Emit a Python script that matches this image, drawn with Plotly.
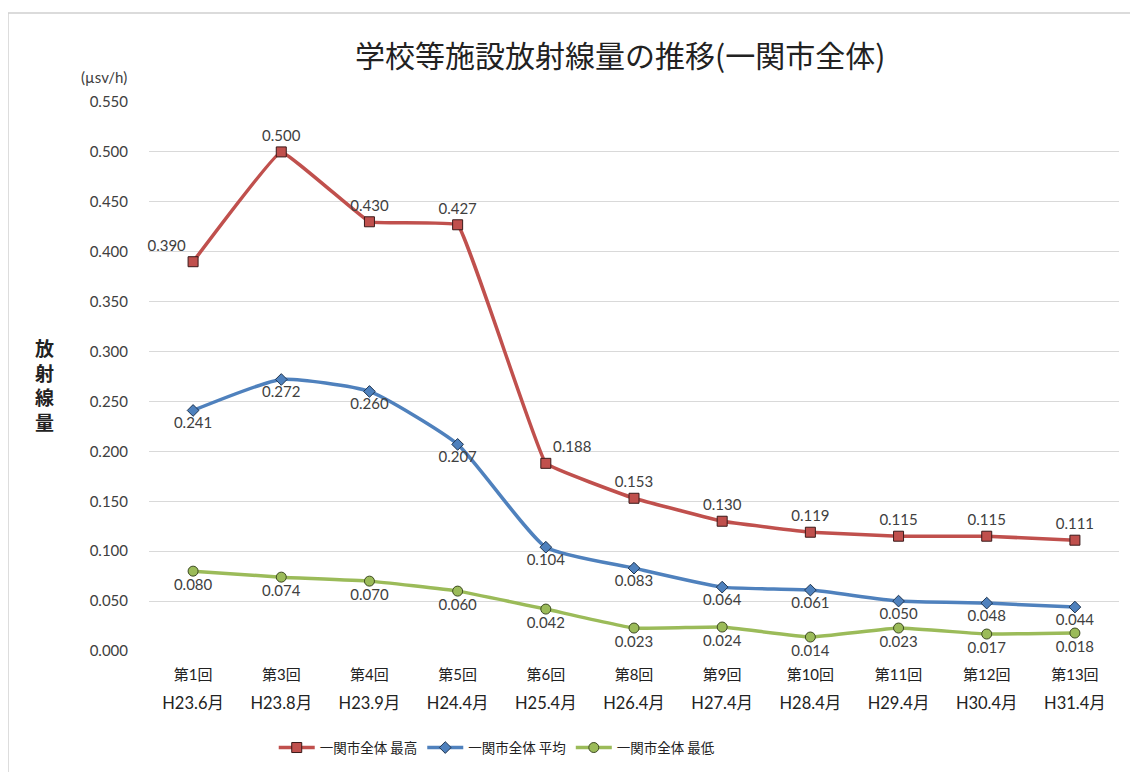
import plotly.graph_objects as go

rounds = ["第1回", "第3回", "第4回", "第5回", "第6回", "第8回", "第9回", "第10回", "第11回", "第12回", "第13回"]
dates = ["H23.6月", "H23.8月", "H23.9月", "H24.4月", "H25.4月", "H26.4月", "H27.4月", "H28.4月", "H29.4月", "H30.4月", "H31.4月"]
max_vals = [0.390, 0.500, 0.430, 0.427, 0.188, 0.153, 0.130, 0.119, 0.115, 0.115, 0.111]
avg_vals = [0.241, 0.272, 0.260, 0.207, 0.104, 0.083, 0.064, 0.061, 0.050, 0.048, 0.044]
min_vals = [0.080, 0.074, 0.070, 0.060, 0.042, 0.023, 0.024, 0.014, 0.023, 0.017, 0.018]
y_ticks = [0.0, 0.05, 0.1, 0.15, 0.2, 0.25, 0.3, 0.35, 0.4, 0.45, 0.5, 0.55]

cats = [f"{r}|{d}" for r, d in zip(rounds, dates)]
ticktext = [f"<span style='font-size:15px'>{r}</span><br><br><span style='font-size:16.5px'>{d}</span>"
            for r, d in zip(rounds, dates)]

FONT = "Lato, 'Noto Sans CJK JP', sans-serif"
JP = "'Noto Sans CJK JP', sans-serif"
RED, BLUE, GREEN = "#C0504D", "#4F81BD", "#9BBB59"

max_pos = ["top left", "top center", "top center", "top center", "top right"] + ["top center"] * 6
avg_pos = ["bottom center"] * 11
min_pos = ["bottom center"] * 11

fig = go.Figure()
fig.add_trace(go.Scatter(
    x=cats, y=max_vals, name="一関市全体 最高", mode="lines+markers+text", cliponaxis=False,
    line=dict(color=RED, width=3.5, shape="spline", smoothing=0.2),
    marker=dict(symbol="square", size=10, color=RED, line=dict(color="#3a1a1a", width=1)),
    text=[f"{v:.3f}" for v in max_vals], textposition=max_pos,
    textfont=dict(family=FONT, size=15, color="#404040"),
))
fig.add_trace(go.Scatter(
    x=cats, y=avg_vals, name="一関市全体 平均", mode="lines+markers+text", cliponaxis=False,
    line=dict(color=BLUE, width=3.5, shape="spline", smoothing=0.5),
    marker=dict(symbol="diamond", size=9, color=BLUE, line=dict(color="#1f3550", width=1)),
    text=[f"{v:.3f}" for v in avg_vals], textposition=avg_pos,
    textfont=dict(family=FONT, size=15, color="#404040"),
))
fig.add_trace(go.Scatter(
    x=cats, y=min_vals, name="一関市全体 最低", mode="lines+markers+text", cliponaxis=False,
    line=dict(color=GREEN, width=3.5, shape="spline", smoothing=0.3),
    marker=dict(symbol="circle", size=10, color=GREEN, line=dict(color="#3d4a22", width=1)),
    text=[f"{v:.3f}" for v in min_vals], textposition=min_pos,
    textfont=dict(family=FONT, size=15, color="#404040"),
))

fig.update_layout(
    width=1138, height=772,
    margin=dict(l=141, r=27, t=94, b=129, autoexpand=False),
    paper_bgcolor="white", plot_bgcolor="white",
    font=dict(family=FONT, color="#333333"),
    title=dict(text="学校等施設放射線量の推移(一関市全体)", x=0.538, xanchor="center",
               y=0.937, yanchor="middle",
               font=dict(family=JP, size=30, color="#222222")),
    showlegend=True,
    legend=dict(orientation="h", x=0.359, xanchor="center", y=-0.148, yanchor="top",
                font=dict(family=JP, size=13.5, color="#222222"),
                itemwidth=36, tracegroupgap=0),
    hovermode=False,
)
fig.update_xaxes(
    tickmode="array", tickvals=cats, ticktext=ticktext, range=[-0.5, 10.5],
    showgrid=False, showline=False, zeroline=False, ticks="", automargin=False,
    ticklabelstandoff=16,
    tickfont=dict(family=FONT, size=11.5, color="#222222"),
)
fig.update_yaxes(
    range=[0, 0.55], tickmode="array", tickvals=y_ticks,
    ticktext=[f"{v:.3f}" for v in y_ticks], automargin=False,
    showgrid=True, gridcolor="#d9d9d9", gridwidth=1, zeroline=False,
    showline=False, ticks="", ticklabelstandoff=20,
    tickfont=dict(family=FONT, size=15, color="#404040"),
)
fig.add_annotation(text="(µsv/h)", xref="paper", yref="paper", x=-0.046, y=1.025,
                   xanchor="center", yanchor="bottom", showarrow=False,
                   font=dict(family=FONT, size=15, color="#404040"))
fig.add_annotation(text="<b>放<br>射<br>線<br>量</b>", xref="paper", yref="paper", x=-0.108, y=0.485,
                   xanchor="center", yanchor="middle", showarrow=False,
                   font=dict(family=JP, size=19, color="#222222"))
fig.add_shape(type="rect", xref="paper", yref="paper", x0=-0.1454, x1=1.1, y0=-0.4, y1=1.162,
              line=dict(color="#d0d0d0", width=1.5), fillcolor="rgba(0,0,0,0)", layer="below")

fig.write_html("out.html")
